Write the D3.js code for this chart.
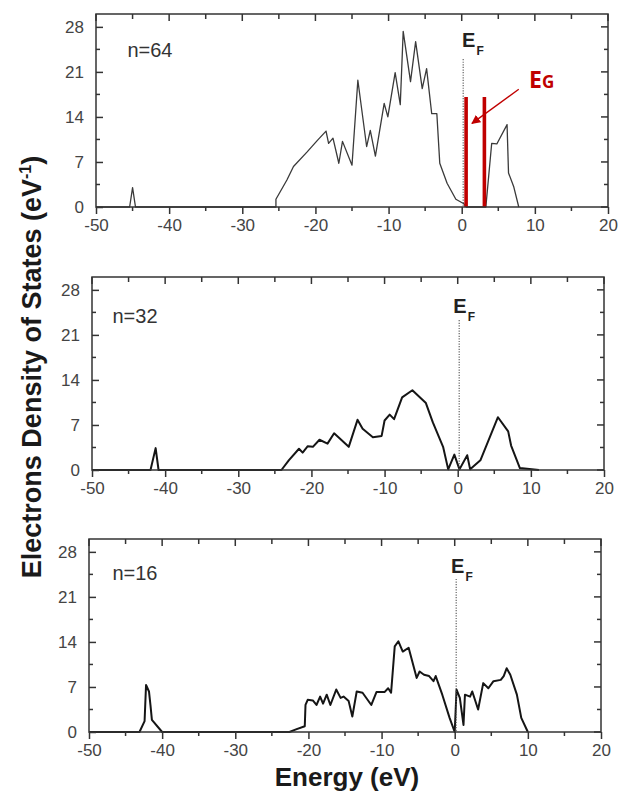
<!DOCTYPE html>
<html><head><meta charset="utf-8">
<script src="https://cdn.jsdelivr.net/npm/d3@7"></script>
<style>
html,body{margin:0;padding:0;background:#fff;}
svg{display:block;font-family:"Liberation Sans",Arial,sans-serif;}
</style></head>
<body>
<svg id="chart" width="618" height="794"></svg>
<script>
// ---- data ----
const energyTicks = [-50, -40, -30, -20, -10, 0, 10, 20];
const energyMinor = [-45, -35, -25, -15, -5, 5, 15];
const dosTicks = [0, 7, 14, 21, 28];
const dosMinor = [3.5, 10.5, 17.5, 24.5];
const panelLabels = ["n=64", "n=32", "n=16"];

const dos64 = [[-50,0],[-45.4,0],[-45.0,3.0],[-44.6,0],[-25.4,0],[-25.4,1.2],[-23.9,4.2],[-23.0,6.3],[-21.1,8.6],[-19.7,10.4],
  [-18.55,11.8],[-18.2,9.9],[-17.6,10.7],[-16.8,6.8],[-16.3,10.2],[-15.0,6.5],[-14.2,19.7],[-13.0,9.4],[-12.5,11.9],
  [-11.8,7.9],[-10.6,16.1],[-10.1,14.0],[-9.1,20.9],[-8.4,15.9],[-8.0,27.3],[-7.0,19.5],[-6.3,25.7],[-5.4,18.4],
  [-4.8,21.5],[-4.1,14.5],[-3.4,14.5],[-3.0,6.8],[-2.0,3.7],[-0.8,1.2],[0.3,0.5],[0.6,0],[3.3,0],[4.1,9.9],[4.8,9.8],
  [6.2,12.8],[6.4,5.3],[7.1,3.2],[7.8,0]];
const dos32 = [[-50,0],[-42.0,0],[-41.3,3.4],[-40.9,0],[-24.1,0],[-23.1,1.5],[-21.7,3.3],[-21.2,2.7],[-20.5,3.7],[-19.8,3.6],
  [-18.9,4.7],[-17.8,4.1],[-16.9,5.7],[-14.9,3.6],[-13.7,7.8],[-13.0,6.4],[-11.6,5.1],[-10.4,5.3],[-10.0,7.7],
  [-9.3,8.6],[-8.7,7.9],[-7.6,11.3],[-6.2,12.4],[-4.35,10.4],[-3.4,7.4],[-2.0,3.6],[-1.3,0.1],[-0.46,2.4],[0.24,0.1],
  [1.3,2.3],[1.7,0.1],[3.1,1.5],[5.5,8.2],[6.9,6.0],[7.3,3.8],[8.5,0.3],[11.1,0]];
const dos16 = [[-50,0],[-43.1,0],[-42.4,1.7],[-42.2,7.3],[-41.8,6.3],[-41.6,4.2],[-41.4,1.9],[-40.0,0],[-22.6,0],[-21.7,0.4],
  [-20.5,0.9],[-20.4,4.2],[-20.1,5.0],[-19.4,4.9],[-18.9,4.2],[-18.4,5.5],[-18.0,4.4],[-17.5,5.8],[-17.0,4.2],
  [-16.2,6.6],[-15.6,5.3],[-15.2,5.5],[-14.5,4.8],[-14.0,2.4],[-13.4,6.3],[-12.6,6.1],[-11.4,4.2],[-10.7,6.2],
  [-9.6,6.2],[-9.1,6.8],[-8.7,6.1],[-8.2,13.3],[-7.7,14.1],[-7.1,12.5],[-6.3,13.1],[-5.2,8.4],[-4.8,9.4],[-4.2,8.9],
  [-3.5,8.7],[-2.9,7.9],[-2.6,8.7],[-2.2,7.4],[-1.7,5.8],[-0.7,2.2],[0.0,0],[0.25,6.6],[0.7,5.3],[1.2,1.1],[1.4,5.8],
  [2.1,5.5],[2.4,6.3],[3.2,3.5],[3.9,7.6],[4.6,6.8],[5.3,7.9],[6.3,8.1],[6.7,8.7],[7.1,9.9],[7.6,8.9],[8.5,5.8],
  [9.1,2.2],[10.0,0]];
const gapBars = [0.6, 3.1];
const gapHeight = 17.1;
const fermiEnergy = 0.2;

// ---- layout ----
const W = 512, H = 193;
const panels = [
  {left: 96, top: 14, data: dos64, label: panelLabels[0], labelPos: [-45.7, 23.3], efPos: [0.05, 24.8], efTop: 23.0, lw: 1.3, col: "#3a3a3a"},
  {left: 92, top: 277, data: dos32, label: panelLabels[1], labelPos: [-47.2, 22.9], efPos: [-0.6, 24.4], efTop: 23.3, lw: 2.0, col: "#151515"},
  {left: 89, top: 539, data: dos16, label: panelLabels[2], labelPos: [-46.8, 23.7], efPos: [-0.5, 24.7], efTop: 23.8, lw: 2.0, col: "#151515"}
];

const svg = d3.select("#chart");
const axisCol = "#333";
const tickCol = "#444";
const fmt = d => String(d);

panels.forEach((p, i) => {
  const x = d3.scaleLinear().domain([-50, 20]).range([0, W]);
  const y = d3.scaleLinear().domain([0, 30]).range([H, 0]);
  const g = svg.append("g").attr("transform", `translate(${p.left},${p.top})`);

  // curve
  const line = d3.line().x(d => x(d[0])).y(d => y(d[1]));
  g.append("path").datum(p.data).attr("d", line)
    .attr("fill", "none").attr("stroke", p.col).attr("stroke-width", p.lw).attr("stroke-linejoin", "round");

  // fermi dotted line
  g.append("line").attr("x1", x(fermiEnergy)).attr("x2", x(fermiEnergy))
    .attr("y1", y(p.efTop)).attr("y2", y(0))
    .attr("stroke", "#555").attr("stroke-width", 1.1).attr("stroke-dasharray", "1.2,1.4");

  // E_F label
  const ef = g.append("text").attr("x", x(p.efPos[0])).attr("y", y(p.efPos[1]))
    .attr("font-size", 20).attr("font-weight", "bold").attr("fill", "#222");
  ef.append("tspan").text("E");
  ef.append("tspan").attr("dy", 8).attr("dx", 1).attr("font-size", 12).text("F");

  // panel label
  g.append("text").attr("x", x(p.labelPos[0])).attr("y", y(p.labelPos[1]))
    .attr("font-size", 20).attr("fill", "#333").text(p.label);

  if (i === 0) {
    const red = "#c00000";
    g.selectAll("line.gap").data(gapBars).enter().append("line")
      .attr("x1", d => x(d)).attr("x2", d => x(d)).attr("y1", y(0)).attr("y2", y(gapHeight))
      .attr("stroke", red).attr("stroke-width", 3.6);
    const defs = svg.append("defs");
    defs.append("marker").attr("id", "ah").attr("viewBox", "0 0 10 10").attr("refX", 9).attr("refY", 5)
      .attr("markerWidth", 9).attr("markerHeight", 9).attr("markerUnits", "userSpaceOnUse").attr("orient", "auto")
      .append("path").attr("d", "M0,0 L10,5 L0,10 Z").attr("fill", red);
    g.append("line").attr("x1", x(7.8)).attr("y1", y(18.3)).attr("x2", x(1.4)).attr("y2", y(13.0))
      .attr("stroke", red).attr("stroke-width", 1.3).attr("marker-end", "url(#ah)");
    const eg = g.append("text").attr("x", x(9.2)).attr("y", y(18.5))
      .attr("font-family", "'Open Sans',sans-serif").attr("font-weight", "bold").attr("fill", red);
    eg.append("tspan").attr("font-size", 23).text("E");
    eg.append("tspan").attr("font-size", 17).text("G");
  }

  // frame
  g.append("rect").attr("x", 0).attr("y", 0).attr("width", W).attr("height", H)
    .attr("fill", "none").attr("stroke", axisCol).attr("stroke-width", 1.5);

  // bottom axis (ticks outward)
  const bx = g.append("g").attr("transform", `translate(0,${H})`)
    .call(d3.axisBottom(x).tickValues(energyTicks).tickSize(7).tickPadding(5).tickFormat(fmt));
  bx.select(".domain").remove();
  bx.selectAll("line").attr("stroke", axisCol).attr("stroke-width", 1.5);
  bx.selectAll("text").attr("font-size", 17).attr("fill", tickCol).attr("font-family", "'Liberation Sans',Arial,sans-serif");
  g.selectAll("line.bminor").data(energyMinor).enter().append("line")
    .attr("x1", d => x(d)).attr("x2", d => x(d)).attr("y1", H).attr("y2", H + 4)
    .attr("stroke", axisCol).attr("stroke-width", 1.5);

  // top axis ticks (inward)
  g.selectAll("line.tmaj").data(energyTicks.concat(energyMinor)).enter().append("line")
    .attr("x1", d => x(d)).attr("x2", d => x(d)).attr("y1", 0).attr("y2", d => energyTicks.includes(d) ? 7 : 5)
    .attr("stroke", axisCol).attr("stroke-width", 1.5);

  // left axis (ticks inward)
  const ly = g.append("g")
    .call(d3.axisLeft(y).tickValues(dosTicks).tickSize(-7).tickPadding(12).tickFormat(fmt));
  ly.select(".domain").remove();
  ly.selectAll("line").attr("stroke", axisCol).attr("stroke-width", 1.5);
  ly.selectAll("text").attr("font-size", 17).attr("fill", tickCol).attr("font-family", "'Liberation Sans',Arial,sans-serif");
  g.selectAll("line.lminor").data(dosMinor).enter().append("line")
    .attr("x1", 0).attr("x2", 4).attr("y1", d => y(d)).attr("y2", d => y(d))
    .attr("stroke", axisCol).attr("stroke-width", 1.5);

  // right ticks (inward)
  g.selectAll("line.rt").data(dosTicks.concat(dosMinor)).enter().append("line")
    .attr("x1", W).attr("x2", d => W - (dosTicks.includes(d) ? 7 : 4)).attr("y1", d => y(d)).attr("y2", d => y(d))
    .attr("stroke", axisCol).attr("stroke-width", 1.5);
});

// axis titles
const yt = svg.append("text").attr("transform", "translate(41,367) rotate(-90)")
  .attr("text-anchor", "middle").attr("font-size", 27).attr("font-weight", "bold").attr("fill", "#1a1a1a");
yt.append("tspan").text("Electrons Density of States (eV");
yt.append("tspan").attr("font-size", 16).attr("dy", -10).text("-1");
yt.append("tspan").attr("dy", 10).text(")");

svg.append("text").attr("x", 347).attr("y", 786).attr("text-anchor", "middle")
  .attr("font-size", 26).attr("font-weight", "bold").attr("fill", "#1a1a1a").text("Energy (eV)");
</script>
</body></html>
